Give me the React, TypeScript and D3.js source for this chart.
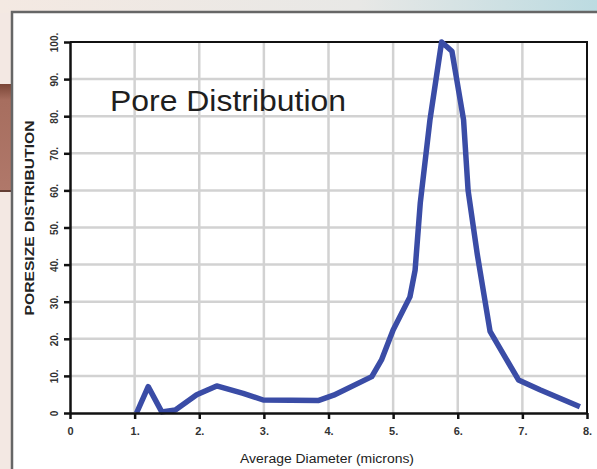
import React, { useEffect, useRef } from 'react';
import * as d3 from 'd3';

// values
const diameters = [1.03, 1.21, 1.42, 1.63, 1.96, 2.27, 2.68, 2.99, 3.85, 4.08, 4.67, 4.82, 5.0, 5.26, 5.34, 5.42, 5.57, 5.75, 5.91, 6.09, 6.16, 6.3, 6.5, 6.94, 7.28, 7.89];
const distribution = [0, 7.1, 0.3, 0.8, 4.9, 7.3, 5.3, 3.5, 3.4, 4.8, 9.8, 14.3, 22.4, 31.3, 38.5, 56.6, 79, 100, 97.5, 79, 60, 43, 22, 8.9, 6.2, 1.7];
const xTicks = [0, 1, 2, 3, 4, 5, 6, 7, 8];
const xTickLabels = ['0', '1.', '2.', '3.', '4.', '5.', '6.', '7.', '8.'];
const yTicks = [0, 10, 20, 30, 40, 50, 60, 70, 80, 90, 100];
const yTickLabels = ['0', '10.', '20.', '30.', '40.', '50.', '60.', '70.', '80.', '90.', '100.'];

const W = 597;
const H = 469;
const font = "'Liberation Sans', Arial, sans-serif";

function App() {
  const svgRef = useRef(null);

  useEffect(() => {
    const svg = d3.select(svgRef.current);
    svg.selectAll('*').remove();

    const left = 70, right = 587, top = 42, bottom = 413;

    const defs = svg.append('defs');
    const topGrad = defs.append('linearGradient').attr('id', 'topg');
    topGrad.append('stop').attr('offset', '0%').attr('stop-color', '#f4e9e2');
    topGrad.append('stop').attr('offset', '60%').attr('stop-color', '#e8e8e6');
    topGrad.append('stop').attr('offset', '100%').attr('stop-color', '#bcdbe1');
    const brown = defs.append('linearGradient').attr('id', 'brown').attr('x1', 0).attr('x2', 0).attr('y1', 0).attr('y2', 1);
    brown.append('stop').attr('offset', '0%').attr('stop-color', '#7a4536');
    brown.append('stop').attr('offset', '15%').attr('stop-color', '#a76e5f');
    brown.append('stop').attr('offset', '100%').attr('stop-color', '#b0786a');

    // background outside the panel
    svg.append('rect').attr('width', W).attr('height', H).attr('fill', '#f3e8e3');
    svg.append('rect').attr('width', W).attr('height', 13).attr('fill', 'url(#topg)');
    svg.append('rect').attr('x', 0).attr('y', 84).attr('width', 12).attr('height', 108).attr('fill', 'url(#brown)');
    svg.append('line').attr('x1', 0).attr('x2', 12).attr('y1', 191).attr('y2', 191).attr('stroke', '#4a2a22').attr('stroke-width', 1.5);

    // white panel
    svg.append('rect').attr('x', 12).attr('y', 12).attr('width', W).attr('height', H)
      .attr('fill', '#fff').attr('stroke', '#666').attr('stroke-width', 2.5);

    const x = d3.scaleLinear().domain([0, 8]).range([left, right]);
    const y = d3.scaleLinear().domain([0, 100]).range([bottom, top]);

    // grid
    svg.append('g').selectAll('line').data(xTicks.slice(1, -1)).enter().append('line')
      .attr('x1', d => x(d)).attr('x2', d => x(d)).attr('y1', top).attr('y2', bottom)
      .attr('stroke', '#d2d2d2').attr('stroke-width', 2.5);
    svg.append('g').selectAll('line').data(yTicks.slice(1, -1)).enter().append('line')
      .attr('x1', left).attr('x2', right).attr('y1', d => y(d)).attr('y2', d => y(d))
      .attr('stroke', '#d2d2d2').attr('stroke-width', 2.5);

    // frame
    svg.append('path')
      .attr('d', `M${left},${top}H${right}V${bottom}`)
      .attr('fill', 'none').attr('stroke', '#111').attr('stroke-width', 2);

    // title
    svg.append('text').attr('x', 110).attr('y', 111)
      .attr('font-family', font).attr('font-size', 30).attr('fill', '#1e1e1e')
      .attr('textLength', 236).attr('lengthAdjust', 'spacingAndGlyphs')
      .text('Pore Distribution');

    // curve
    const line = d3.line()
      .x((d, i) => x(diameters[i]))
      .y(d => y(d))
      .curve(d3.curveLinear);
    svg.append('path').datum(distribution)
      .attr('d', line)
      .attr('fill', 'none').attr('stroke', '#3a4ca6').attr('stroke-width', 5.5)
      .attr('stroke-linejoin', 'round');

    // x axis
    const xAxis = svg.append('g').attr('transform', `translate(0,${bottom})`)
      .call(d3.axisBottom(x).tickValues(xTicks).tickSize(6).tickSizeOuter(0).tickFormat((d, i) => xTickLabels[i]));
    xAxis.select('.domain').attr('stroke', '#111').attr('stroke-width', 2.5);
    xAxis.selectAll('line').attr('stroke', '#111').attr('stroke-width', 2.5);
    xAxis.selectAll('text').attr('font-family', font).attr('font-size', 11).attr('font-weight', 'bold')
      .attr('fill', '#333').attr('dy', '1.2em');

    // y axis
    const yAxis = svg.append('g').attr('transform', `translate(${left},0)`)
      .call(d3.axisLeft(y).tickValues(yTicks).tickSize(6).tickSizeOuter(0).tickFormat((d, i) => yTickLabels[i]));
    yAxis.select('.domain').attr('stroke', '#111').attr('stroke-width', 2.5);
    yAxis.selectAll('line').attr('stroke', '#111').attr('stroke-width', 2.5);
    yAxis.selectAll('text').remove();
    yAxis.selectAll('.tick').append('text')
      .attr('transform', 'translate(-12,0) rotate(-90)')
      .attr('text-anchor', 'middle')
      .attr('font-family', font).attr('font-size', 10).attr('font-weight', 'bold').attr('fill', '#333')
      .text((d, i) => yTickLabels[i]);

    // axis titles
    svg.append('text').attr('x', 327).attr('y', 463).attr('text-anchor', 'middle')
      .attr('font-family', font).attr('font-size', 12).attr('fill', '#222')
      .attr('textLength', 174).attr('lengthAdjust', 'spacingAndGlyphs')
      .text('Average Diameter (microns)');
    svg.append('text').attr('transform', `translate(34,218) rotate(-90)`)
      .attr('text-anchor', 'middle')
      .attr('font-family', font).attr('font-size', 12).attr('font-weight', 'bold').attr('fill', '#222')
      .attr('textLength', 195).attr('lengthAdjust', 'spacingAndGlyphs')
      .text('PORESIZE DISTRIBUTION');
  }, []);

  return (
    <svg ref={svgRef} width={W} height={H}
      style={{ position: 'absolute', left: 0, top: 0, display: 'block' }} />
  );
}

export default App;
